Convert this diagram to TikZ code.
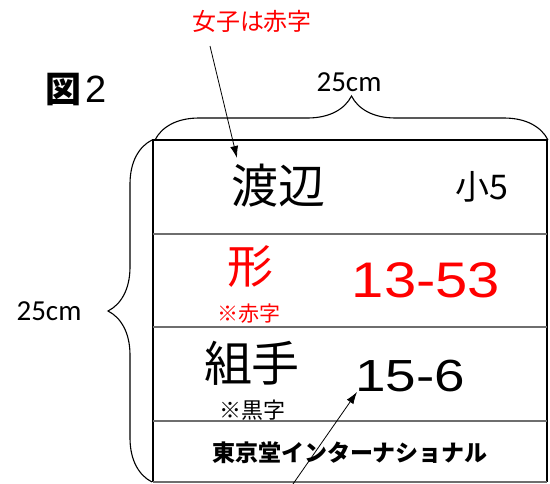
\documentclass[tikz,border=0pt]{standalone}
\usepackage{fontspec}
\setmainfont{Liberation Sans}
\newfontfamily\jpfont{Noto Sans CJK JP}
\newfontfamily\arialfont{Liberation Sans}
\newfontfamily\calfont{Carlito}
\usetikzlibrary{decorations.pathreplacing,arrows.meta}
\definecolor{myred}{RGB}{255,0,0}
\definecolor{rowline}{RGB}{110,110,110}
\tikzset{
  txt/.style={inner sep=0pt, anchor=center},
  jp/.style={txt, font=\jpfont\fontsize{#1}{#1}\selectfont},
  num/.style={txt, font=\arialfont\fontsize{#1}{#1}\selectfont},
  dimtxt/.style={txt, font=\calfont\fontsize{29}{29}\selectfont},
  bracestyle/.style={decorate, decoration={brace, amplitude=44pt}, line width=1.1pt},
  pointer/.style={-{Latex[length=12pt,width=8pt]}, line width=0.8pt},
  border/.style={line width=1.5pt},
  rowsep/.style={line width=1.1pt, draw=rowline}
}
\begin{document}
\begin{tikzpicture}[x=1pt,y=-1pt]
\useasboundingbox (0,0) rectangle (550,483);
% table
\coordinate (tl) at (153,140);
\coordinate (tr) at (547,140);
\coordinate (bl) at (153,482);
\coordinate (br) at (547,482);
\draw[border] (bl) -- (tl) -- (tr) -- (br);
\draw[rowsep] (bl) -- (br);
\coordinate (r1l) at (153,234);
\coordinate (r1r) at (547,234);
\coordinate (r2l) at (153,327);
\coordinate (r2r) at (547,327);
\coordinate (r3l) at (153,421);
\coordinate (r3r) at (547,421);
\draw[rowsep] (r1l) -- (r1r);
\draw[rowsep] (r2l) -- (r2r);
\draw[rowsep] (r3l) -- (r3r);
% braces
\coordinate (lb1) at (152,482);
\coordinate (lb2) at (152,140);
\draw[bracestyle] (lb1) -- (lb2);
\coordinate (tb1) at (155,140);
\coordinate (tb2) at (548,140);
\draw[bracestyle] (tb1) -- (tb2);
\node[dimtxt] (dimleft) at (49,311) {25cm};
\node[dimtxt] (dimtop) at (349,82) {25cm};
% title
\node[txt] (title) at (76,90) {{\jpfont\bfseries\fontsize{36}{36}\selectfont 図}\hspace{4pt}{\arialfont\fontsize{38}{38}\selectfont 2}};
\node[jp=24, text=myred] (note) at (252,21) {女子は赤字};
% row 1
\node[jp=47] (name) at (278,186) {渡辺};
\node[jp=34] (grade) at (482,187) {小5};
% row 2
\node[jp=46, text=myred] (kata) at (250,267) {形};
\node[jp=21, text=myred] (katanote) at (249,314) {※赤字};
\node[num=50, text=myred] (katascore) at (426,280) {\scalebox{1.16}[1]{13-53}};
% row 3
\node[jp=48] (kumite) at (252,363) {組手};
\node[jp=22] (kumitenote) at (252,410) {※黒字};
\node[num=45] (kumitescore) at (410,376) {\scalebox{1.22}[1]{15-6}};
% row 4
\node[jp=23, font=\jpfont\bfseries\fontsize{23}{23}\selectfont] (company) at (350,453) {東京堂インターナショナル};
% pointers
\coordinate (p1s) at (210,46);
\coordinate (p1e) at (237,158);
\draw[pointer] (p1s) -- (p1e);
\coordinate (p2s) at (293,484);
\coordinate (p2e) at (357,392);
\draw[pointer] (p2s) -- (p2e);
\end{tikzpicture}
\end{document}
